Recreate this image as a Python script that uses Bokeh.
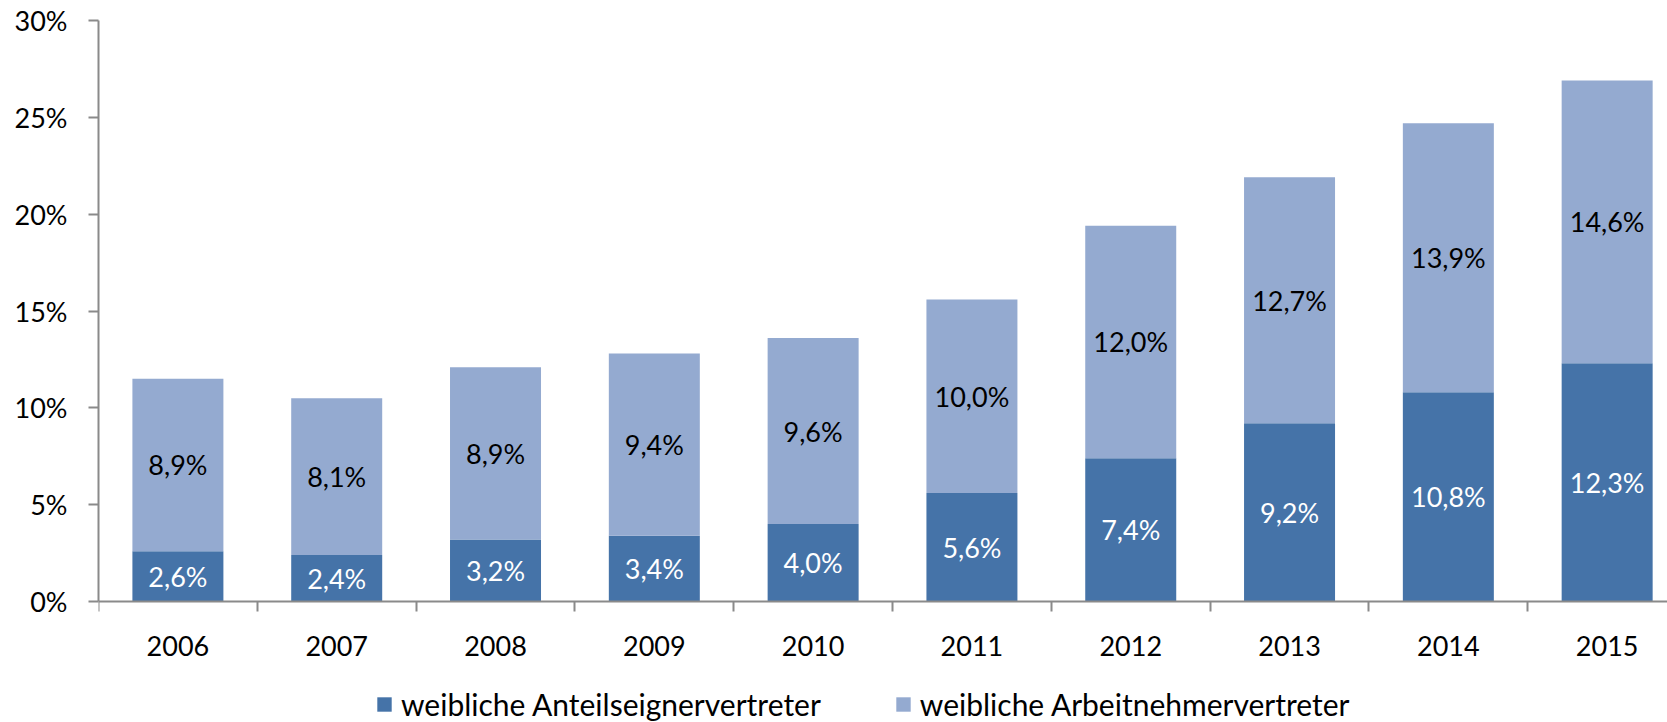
from bokeh.plotting import figure
from bokeh.models import (ColumnDataSource, Range1d, FixedTicker, Legend, LegendItem,
                          LabelSet, CustomJSTickFormatter, LinearAxis)
from bokeh.core.properties import value
from bokeh.embed import file_html
from bokeh.resources import INLINE

years = ["2006", "2007", "2008", "2009", "2010", "2011", "2012", "2013", "2014", "2015"]
anteilseigner = [2.6, 2.4, 3.2, 3.4, 4.0, 5.6, 7.4, 9.2, 10.8, 12.3]
arbeitnehmer = [8.9, 8.1, 8.9, 9.4, 9.6, 10.0, 12.0, 12.7, 13.9, 14.6]
y_ticks = [0, 5, 10, 15, 20, 25, 30]
series_names = ["weibliche Anteilseignervertreter", "weibliche Arbeitnehmervertreter"]

DARK = "#4573A8"
LIGHT = "#94AAD0"
AXIS = "#8A8A8A"
FONT = "Lato"
FS = "27px"
LFS = "30px"

xc = [i + 0.5 for i in range(len(years))]
tops = [a + b for a, b in zip(anteilseigner, arbeitnehmer)]
src = ColumnDataSource(dict(
    x=xc, a=anteilseigner, b=arbeitnehmer, top=tops,
    a_mid=[v / 2 for v in anteilseigner],
    b_mid=[a + b / 2 for a, b in zip(anteilseigner, arbeitnehmer)],
    a_lab=[f"{v:.1f}%".replace(".", ",") for v in anteilseigner],
    b_lab=[f"{v:.1f}%".replace(".", ",") for v in arbeitnehmer],
    zero=[0] * len(years),
))

# frame spans y=20..722 px; value 0 sits at y=601 px, 30 at y=20 px
px_per_unit = (601 - 20) / 30.0
y_start = -(722 - 601) / px_per_unit

p = figure(width=1667, height=722, output_backend="svg", toolbar_location=None,
           x_range=Range1d(0, 9.88), y_range=Range1d(y_start, 30),
           x_axis_location=None,
           min_border_left=98, min_border_right=0, min_border_top=20, min_border_bottom=0)
p.outline_line_color = None
p.grid.visible = False
p.background_fill_color = "white"

W = 0.573
r1 = p.vbar(x="x", bottom="zero", top="a", width=W, source=src, fill_color=DARK, line_color=None)
r2 = p.vbar(x="x", bottom="a", top="top", width=W, source=src, fill_color=LIGHT, line_color=None)

p.add_layout(LabelSet(x="x", y="a_mid", text="a_lab", source=src, text_align="center",
                      text_baseline="middle", text_color="white", text_font=value(FONT),
                      text_font_size=FS))
p.add_layout(LabelSet(x="x", y="b_mid", text="b_lab", source=src, text_align="center",
                      text_baseline="middle", text_color="black", text_font=value(FONT),
                      text_font_size=FS))

xa = LinearAxis(fixed_location=0)
xa.ticker = FixedTicker(ticks=xc, minor_ticks=list(range(len(years) + 1)))
xa.major_label_overrides = {x: y for x, y in zip(xc, years)}
xa.major_tick_out = 0
xa.major_tick_in = 0
xa.minor_tick_out = 10
xa.minor_tick_in = 0
xa.axis_line_color = AXIS
xa.axis_line_width = 2
xa.minor_tick_line_color = AXIS
xa.minor_tick_line_width = 2
xa.major_label_text_font = FONT
xa.major_label_text_font_size = FS
xa.major_label_text_color = "black"
xa.major_label_standoff = 24
p.add_layout(xa, "below")

ya = p.yaxis[0]
ya.bounds = (0, 30)
ya.ticker = FixedTicker(ticks=y_ticks, minor_ticks=[])
ya.formatter = CustomJSTickFormatter(code="return tick + '%';")
ya.major_tick_out = 10
ya.major_tick_in = 0
ya.axis_line_color = AXIS
ya.axis_line_width = 2
ya.major_tick_line_color = AXIS
ya.major_tick_line_width = 2
ya.major_label_text_font = FONT
ya.major_label_text_font_size = FS
ya.major_label_text_color = "black"
ya.major_label_standoff = 21

legend = Legend(items=[LegendItem(label=series_names[0], renderers=[r1]),
                       LegendItem(label=series_names[1], renderers=[r2])],
                orientation="horizontal", location=(277, 0),
                label_text_font=FONT, label_text_font_size=LFS, label_text_color="black",
                glyph_width=18, glyph_height=18, label_standoff=8, spacing=73,
                border_line_color=None, background_fill_alpha=0, padding=0, margin=0)
p.add_layout(legend, "center")

open("out.html", "w").write(file_html(p, INLINE))
